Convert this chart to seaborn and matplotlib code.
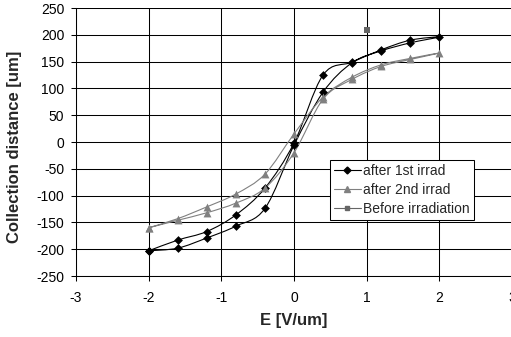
import numpy as np
import pandas as pd
import matplotlib
matplotlib.use("Agg")
import matplotlib.pyplot as plt
import seaborn as sns
from matplotlib.path import Path
from matplotlib.patches import PathPatch
from matplotlib.lines import Line2D

# ---- data (measurement order: up-sweep then down-sweep) ----
e_loop = [-2, -1.6, -1.2, -0.8, -0.4, 0, 0.4, 0.8, 1.2, 1.6, 2,
          1.6, 1.2, 0.8, 0.4, 0, -0.4, -0.8, -1.2, -1.6, -2]
irrad1 = [-203, -198, -179, -157, -124, -6, 93, 148, 170, 185, 196,
          190, 172, 149, 125, -2, -86, -136, -167, -183, -203]
irrad2 = [-160, -146, -132, -114, -86, -20, 80, 117, 141, 154, 166,
          156, 144, 121, 84, 15, -60, -97, -121, -143, -160]
e_before = [1.0]
before = [209]

labels = ["after 1st irrad", "after 2nd irrad", "Before irradiation"]
x_ticks = [-3, -2, -1, 0, 1, 2, 3]
y_ticks = list(range(-250, 251, 50))

sns.set_style("white")
plt.rcParams["font.family"] = ["Liberation Sans", "DejaVu Sans"]

fig = plt.figure(figsize=(5.11, 3.37), dpi=100)
ax = fig.add_axes([76 / 511, 61 / 337, 436 / 511, 268 / 337])


def smooth_path(xs, ys):
    P = np.column_stack([xs, ys]).astype(float)
    n = len(P)
    verts = [P[0]]
    codes = [Path.MOVETO]
    for i in range(n - 1):
        p0 = P[i - 1] if i > 0 else P[i]
        p3 = P[i + 2] if i + 2 < n else P[i + 1]
        c1 = P[i] + (P[i + 1] - p0) / 6.0
        c2 = P[i + 1] - (p3 - P[i]) / 6.0
        verts += [c1, c2, P[i + 1]]
        codes += [Path.CURVE4] * 3
    return Path(verts, codes)


c1, c2, c3 = "#000000", "#808080", "#666666"

for ys, col in [(irrad1, c1), (irrad2, c2)]:
    ax.add_patch(PathPatch(smooth_path(e_loop, ys), facecolor="none",
                           edgecolor=col, lw=0.8, zorder=2))

df1 = pd.DataFrame({"E": e_loop, "d": irrad1})
df2 = pd.DataFrame({"E": e_loop, "d": irrad2})
df3 = pd.DataFrame({"E": e_before, "d": before})
sns.scatterplot(data=df1, x="E", y="d", marker="D", s=20, color=c1,
                edgecolor=c1, linewidth=0, ax=ax, zorder=3)
sns.scatterplot(data=df2, x="E", y="d", marker="^", s=32, color=c2,
                edgecolor=c2, linewidth=0, ax=ax, zorder=3)
sns.scatterplot(data=df3, x="E", y="d", marker="s", s=22, color=c3,
                edgecolor=c3, linewidth=0, ax=ax, zorder=3)

ax.set_xlim(-3, 3)
ax.set_ylim(-250, 250)
ax.set_xticks(x_ticks)
ax.set_yticks(y_ticks)
ax.set_xticklabels([str(v) for v in x_ticks])
ax.set_yticklabels([str(v) for v in y_ticks])

ax.grid(True, color="black", lw=0.75)
ax.set_axisbelow(True)
for s in ["top", "right"]:
    ax.spines[s].set_visible(False)
for s in ["left", "bottom"]:
    ax.spines[s].set_color("black")
    ax.spines[s].set_linewidth(0.75)

ax.tick_params(axis="both", which="major", direction="out", length=3.5,
               width=0.75, color="black", labelsize=10, labelcolor="black",
               left=True, bottom=True)
ax.tick_params(axis="y", pad=5)
ax.tick_params(axis="x", pad=7)

ax.set_xlabel("E [V/um]", fontsize=12, fontweight="bold")
ax.set_ylabel("Collection distance [um]", fontsize=12, fontweight="bold")
ax.xaxis.set_label_coords((294 - 76) / 436, -(320 - 276) / 268)
ax.yaxis.set_label_coords((15 - 76) / 436, (276 - 146.5) / 268)
ax.xaxis.label.set_va("center")
ax.yaxis.label.set_va("center")

handles = [
    Line2D([], [], color=c1, marker="D", markersize=3.5, lw=0.8),
    Line2D([], [], color=c2, marker="^", markersize=4.5, lw=0.8),
    Line2D([], [], color=c3, marker="s", markersize=3.5, lw=0.8),
]
leg = ax.legend(handles, labels, loc="upper left",
                bbox_to_anchor=((330 - 76) / 436, (276 - 160) / 268),
                fontsize=10, frameon=True, fancybox=False, shadow=False,
                handlelength=1.9, handletextpad=0.2, labelspacing=0.35,
                borderpad=0.3, borderaxespad=0, framealpha=1)
leg.get_frame().set_edgecolor("black")
leg.get_frame().set_linewidth(0.75)

fig.savefig("out.png", dpi=100)
